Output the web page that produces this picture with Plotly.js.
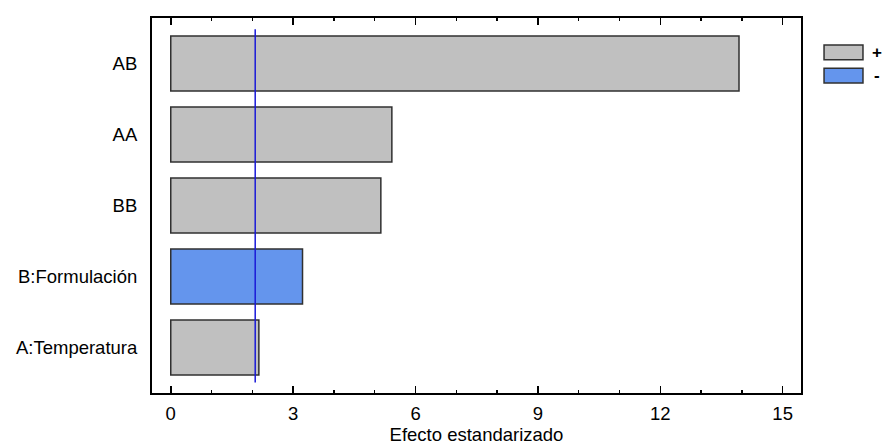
<!DOCTYPE html>
<html>
<head>
<meta charset="utf-8">
<script src="https://cdn.plot.ly/plotly-3.0.1.min.js"></script>
<style>
  html, body { margin: 0; padding: 0; background: #fff; }
  #chart { width: 884px; height: 447px; }
</style>
</head>
<body>
<div id="chart"></div>
<script>
// Standardized Pareto chart of effects
const effects = ['A:Temperatura', 'B:Formulación', 'BB', 'AA', 'AB'];
const values = [2.16, 3.23, 5.15, 5.42, 13.93];
const signs = ['+', '-', '+', '+', '+'];
const criticalValue = 2.07;
const legendLabels = ['+', '-'];

const colorPos = '#c0c0c0';
const colorNeg = '#6495ed';
const font = 'Liberation Sans, Arial, sans-serif';

const barTrace = {
  type: 'bar',
  orientation: 'h',
  y: effects,
  x: values,
  width: 0.775,
  marker: {
    color: signs.map(s => s === '+' ? colorPos : colorNeg),
    line: { color: '#303030', width: 1.5 }
  },
  showlegend: false,
  hoverinfo: 'x+y'
};

const shapes = [
  // critical value line
  {
    type: 'line', xref: 'x', yref: 'paper',
    x0: criticalValue, x1: criticalValue, y0: 0.028, y1: 0.97,
    line: { color: '#1a1ad8', width: 1.5 }
  },
  // legend swatches
  {
    type: 'rect', xref: 'paper', yref: 'paper',
    x0: 1.0355, x1: 1.0955, y0: 0.889, y1: 0.928,
    fillcolor: colorPos, line: { color: '#303030', width: 1.5 }
  },
  {
    type: 'rect', xref: 'paper', yref: 'paper',
    x0: 1.0355, x1: 1.0955, y0: 0.827, y1: 0.866,
    fillcolor: colorNeg, line: { color: '#303030', width: 1.5 }
  }
];

const annotations = [
  {
    xref: 'paper', yref: 'paper', x: 1.107, y: 0.9085,
    xanchor: 'left', yanchor: 'middle', showarrow: false,
    text: '<b>' + legendLabels[0] + '</b>', font: { family: font, size: 17, color: '#000' }
  },
  {
    xref: 'paper', yref: 'paper', x: 1.109, y: 0.8465,
    xanchor: 'left', yanchor: 'middle', showarrow: false,
    text: '<b>' + legendLabels[1] + '</b>', font: { family: font, size: 17, color: '#000' }
  }
];

const layout = {
  width: 884,
  height: 447,
  margin: { l: 152, r: 83, t: 18, b: 54, pad: 0 },
  paper_bgcolor: '#ffffff',
  plot_bgcolor: '#ffffff',
  font: { family: font, size: 18.5, color: '#000' },
  bargap: 0.225,
  xaxis: {
    range: [-0.46, 15.45],
    tickvals: [0, 3, 6, 9, 12, 15],
    ticks: 'inside',
    ticklen: 7,
    tickwidth: 1.5,
    tickcolor: '#000',
    minor: { tickvals: [1, 2, 4, 5, 7, 8, 10, 11, 13, 14], ticks: 'inside', ticklen: 3, tickwidth: 1.5, tickcolor: '#000' },
    showline: true,
    linecolor: '#000',
    linewidth: 2,
    mirror: 'allticks',
    showgrid: false,
    zeroline: false,
    tickfont: { family: font, size: 18.5 },
    ticklabelstandoff: 3,
    title: { text: 'Efecto estandarizado', font: { family: font, size: 18.5 }, standoff: 2 }
  },
  yaxis: {
    type: 'category',
    range: [-0.64, 4.64],
    showline: true,
    linecolor: '#000',
    linewidth: 2,
    mirror: true,
    ticks: 'outside',
    ticklen: 9,
    tickcolor: 'rgba(0,0,0,0)',
    showgrid: false,
    zeroline: false,
    tickfont: { family: font, size: 18.5 }
  },
  shapes: shapes,
  annotations: annotations,
  showlegend: false
};

Plotly.newPlot('chart', [barTrace], layout, { displayModeBar: false, staticPlot: true });
</script>
</body>
</html>
